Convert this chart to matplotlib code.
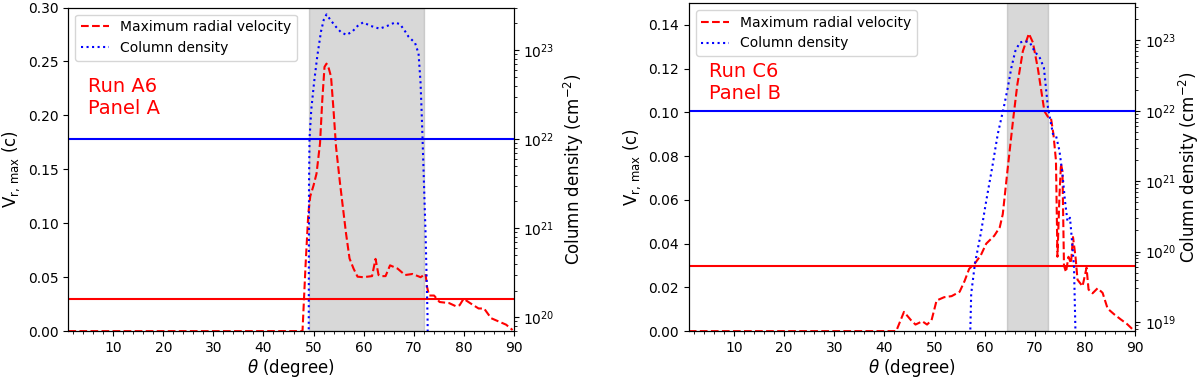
import numpy as np
import matplotlib
matplotlib.use("Agg")
import matplotlib.pyplot as plt
from matplotlib.ticker import MultipleLocator

# Panel A (Run A6)
theta_va = [1, 47.8, 48.4, 48.96, 49.35, 50.0, 50.6, 51.3, 51.75, 52.2, 52.6, 53.05, 53.5,
            54.0, 54.5, 55.3, 56.5, 57.2, 58.0, 58.8, 59.9, 61.7, 62.4, 63.0, 63.4, 64.4,
            65.3, 66.8, 68.3, 69.8, 71.4, 72.4, 72.7, 73.1, 74.1, 75.2, 77.1, 78.5, 79.2,
            80.0, 81.3, 83.0, 84.1, 85.5, 87.0, 88.5, 89.8]
vr_a = [0, 0, 0.06, 0.109, 0.125, 0.135, 0.146, 0.174, 0.214, 0.245, 0.248, 0.2436, 0.236,
        0.205, 0.171, 0.137, 0.0906, 0.0674, 0.058, 0.0505, 0.050, 0.051, 0.067, 0.052,
        0.051, 0.051, 0.061, 0.058, 0.052, 0.053, 0.050, 0.053, 0.041, 0.033, 0.033, 0.027,
        0.026, 0.023, 0.024, 0.030, 0.026, 0.021, 0.021, 0.012, 0.009, 0.006, 0.001]
theta_na = [49.0, 49.1, 49.2, 49.55, 50.1, 50.75, 51.5, 52.05, 52.6, 53.5, 54.5, 55.5, 56.6,
            57.8, 58.8, 59.9, 61.5, 63.2, 64.7, 66.3, 67.3, 68.2, 69.0, 70.3, 71.0, 71.4,
            71.6, 71.8, 72.4, 72.8, 73.0]
logn_a = [18.5, 21.5, 22.0, 22.33, 22.63, 22.93, 23.21, 23.34, 23.40, 23.33, 23.26, 23.20,
          23.17, 23.21, 23.27, 23.31, 23.27, 23.24, 23.27, 23.31, 23.29, 23.22, 23.15, 23.08,
          22.96, 22.63, 22.33, 22.0, 20.94, 20.0, 18.5]
span_a = (49.0, 72.0)

# Panel B (Run C6)
theta_vb = [1, 42.35, 43.9, 45.3, 46.2, 47.55, 48.5, 49.4, 50.4, 51.9, 53.4, 55.0, 56.0, 56.9,
            58.05, 59.2, 60.3, 61.9, 63.0, 63.6, 64.6, 65.7, 66.5, 67.6, 68.8, 69.6, 70.6,
            71.9, 72.6, 73.2, 73.7, 74.2, 74.5, 74.9, 75.2, 75.5, 75.8, 76.2, 76.7, 77.2,
            77.6, 78.1, 78.5, 79.5, 80.3, 80.7, 81.5, 82.5, 83.5, 84.5, 85.8, 87.1, 88.4,
            89.4, 90]
vr_b = [0, 0, 0.0088, 0.005, 0.003, 0.0045, 0.003, 0.005, 0.014, 0.0155, 0.016, 0.018, 0.023,
        0.0285, 0.031, 0.0346, 0.040, 0.0436, 0.0475, 0.0535, 0.0748, 0.0975, 0.1127, 0.128,
        0.136, 0.132, 0.120, 0.1005, 0.098, 0.0975, 0.090, 0.078, 0.034, 0.062, 0.0765,
        0.073, 0.030, 0.027, 0.034, 0.031, 0.043, 0.034, 0.0235, 0.0205, 0.029, 0.019,
        0.0173, 0.0196, 0.0175, 0.0103, 0.0077, 0.0054, 0.0032, 0.001, 0.0]
theta_nb = [57.0, 57.3, 58.05, 59.2, 60.3, 61.5, 62.6, 63.8, 64.6, 65.3, 66.1, 67.0, 68.0,
            69.0, 69.9, 71.0, 71.8, 72.6, 73.6, 74.2, 74.9, 75.5, 76.0, 76.5, 77.0, 77.4,
            77.8, 78.2]
logn_b = [18.5, 19.40, 19.83, 20.25, 20.72, 21.20, 21.67, 22.05, 22.33, 22.61, 22.85, 22.97,
          22.99, 22.97, 22.85, 22.75, 22.61, 22.05, 21.67, 21.65, 21.43, 21.1, 20.72, 20.43,
          20.48, 20.15, 19.78, 18.5]
span_b = (64.4, 72.6)

vr_ref = 0.03
n_ref = 1e22

panels = [
    dict(tv=theta_va, v=vr_a, tn=theta_na, n=logn_a, span=span_a, text="Run A6\nPanel A",
         rect=[0.057, 0.124, 0.371, 0.856], vlim=(0, 0.30), vstep=0.05, nlim=(7e19, 3.0e23),
         tpos=(0.045, 0.66), rpad=5),
    dict(tv=theta_vb, v=vr_b, tn=theta_nb, n=logn_b, span=span_b, text="Run C6\nPanel B",
         rect=[0.574, 0.124, 0.372, 0.868], vlim=(0, 0.15), vstep=0.02, nlim=(7.4e18, 3.4e23),
         tpos=(0.046, 0.695), rpad=0.5),
]

fig = plt.figure(figsize=(12, 3.78), dpi=100)

for p in panels:
    ax = fig.add_axes(p["rect"])
    ax.axvspan(p["span"][0], p["span"][1], color="gray", alpha=0.3)
    l1, = ax.plot(p["tv"], p["v"], "r--", lw=1.5, label="Maximum radial velocity")
    ax.axhline(vr_ref, color="red", lw=1.5)
    ax.set_xlim(1, 90)
    ax.set_ylim(*p["vlim"])
    ax.yaxis.set_major_locator(MultipleLocator(p["vstep"]))
    ax.xaxis.set_major_locator(MultipleLocator(10))
    ax.xaxis.set_minor_locator(MultipleLocator(2))
    ax.set_xlabel(r"$\theta$ (degree)", fontsize=12, labelpad=1.5)
    ax.set_ylabel(r"$\mathrm{V_{r,\,max}}$ (c)", fontsize=12)
    ax.text(p["tpos"][0], p["tpos"][1], p["text"], color="red", fontsize=14,
            transform=ax.transAxes, va="bottom", ha="left")

    ax2 = ax.twinx()
    l2, = ax2.semilogy(p["tn"], np.power(10.0, p["n"]), "b:", lw=1.5, label="Column density")
    ax2.axhline(n_ref, color="blue", lw=1.5)
    ax2.set_ylim(*p["nlim"])
    ax2.set_ylabel(r"Column density (cm$^{-2}$)", fontsize=12, labelpad=p["rpad"])
    ax2.legend(handles=[l1, l2], loc="upper left", fontsize=10)

fig.savefig("out.png", dpi=100)
